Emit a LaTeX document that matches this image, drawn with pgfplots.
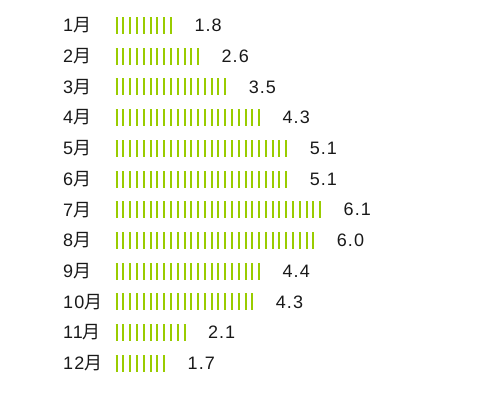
\documentclass[border=0pt]{standalone}
\usepackage{pgfplots}
\pgfplotsset{compat=1.18}
\usepackage{pgfplotstable}
\usepackage{fontspec}
\setmainfont{Liberation Sans}[LetterSpace=6]
\newfontfamily\cjk{Noto Sans CJK JP}
\newcommand\yue{{\cjk 月}}
\usetikzlibrary{calc}
\definecolor{lime}{RGB}{153,204,0}
\definecolor{txt}{RGB}{25,25,25}
\pgfplotstableread[col sep=comma]{
row,label,value,ticks
1,1\yue,1.8,9
2,2\yue,2.6,13
3,3\yue,3.5,17
4,4\yue,4.3,22
5,5\yue,5.1,26
6,6\yue,5.1,26
7,7\yue,6.1,31
8,8\yue,6.0,30
9,9\yue,4.4,22
10,10\yue,4.3,21
11,11\yue,2.1,11
12,12\yue,1.7,8
}\data
\begin{document}
\begin{tikzpicture}[font=\fontsize{18pt}{21pt}\selectfont]
\begin{axis}[
  x=6.78pt, y=30.7pt, y dir=reverse,
  xmin=0, xmax=40, ymin=0.5, ymax=12.5,
  axis line style={draw=none},
  major tick length=0pt,
  xtick=\empty,
  ytick={1,...,12},
  yticklabels from table={\data}{label},
  yticklabel style={anchor=west, inner sep=0pt, xshift=-52.7pt, text=txt},
  clip=false,
  nodes near coords,
  point meta=explicit symbolic,
  every node near coord/.style={anchor=west, inner sep=0pt, xshift=9.3pt, text=txt},
]
\addplot[xcomb, draw=lime, line width=17pt, line cap=butt, dash pattern=on 2pt off 4.78pt]
  table[x=ticks, y=row, meta=value] {\data};
\coordinate (O) at (axis cs:0,0);
\end{axis}
\pgfresetboundingbox
\path ($(O)+(-115.7pt,-5.2pt)$) rectangle ($(O)+(384.3pt,-405.2pt)$);
\end{tikzpicture}
\end{document}
